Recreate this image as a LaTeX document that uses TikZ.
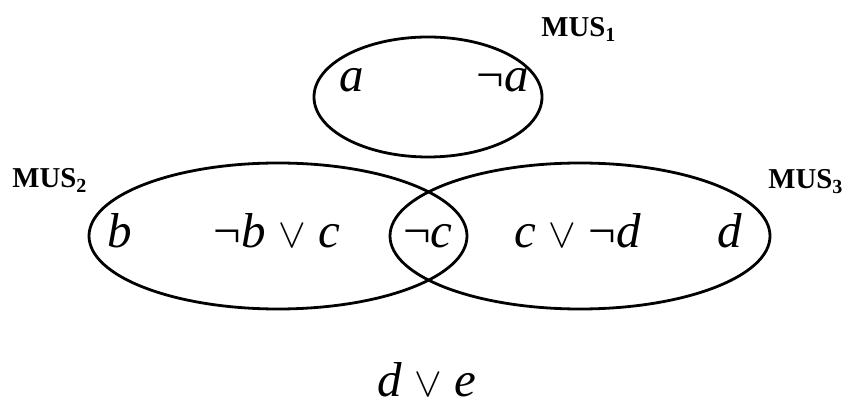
\documentclass[tikz,border=0pt]{standalone}
\usepackage{fontspec}
\setmainfont{Liberation Serif}
\usetikzlibrary{positioning}
\newcommand{\litfont}{\fontsize{24.5}{28}\selectfont\itshape}
\newcommand{\tagfont}{\fontsize{14.4}{16}\selectfont\bfseries}
\newcommand{\myneg}{{\upshape ¬}}
\newcommand{\myor}{{\fontsize{21.5}{24}\selectfont$\vee$}}
\tikzset{
  mus/.style={draw, line width=1.4pt},
  lit/.style={font=\litfont, anchor=base, inner sep=0pt},
  tag/.style={font=\tagfont, anchor=base west, inner sep=0pt},
}

\begin{document}
\begin{tikzpicture}[x=0.5pt, y=-0.5pt]
\useasboundingbox (0,0) rectangle (845,405);
%% ---- les trois ensembles minimaux
\draw[mus] (428,97) ellipse [x radius=114, y radius=60];
\draw[mus] (278,236) ellipse [x radius=189, y radius=73];
\draw[mus] (580,236) ellipse [x radius=190, y radius=73];

%% ---- noms des ensembles
\node[tag] (m1) at (541,37) {MUS\textsubscript{1}};
\node[tag] (m2) at (12,188) {MUS\textsubscript{2}};
\node[tag] (m3) at (768,189) {MUS\textsubscript{3}};

%% ---- les clauses
\node[lit] (a)   at (352,92)  {a};
\node[lit] (na)  at (503,92)  {\myneg a};
\node[lit] (b)   at (120,248) {b};
\node[lit] (bc)  at (277,248) {\myneg b \myor{} c};
\node[lit] (nc)  at (428,248) {\myneg c};
\node[lit] (cd)  at (578,248) {c \myor{} \myneg d};
\node[lit] (d)   at (730,248) {d};
%% ---- hors de tout MUS
\node[lit] (de)  at (427,396) {d \myor{} e};
\end{tikzpicture}
\end{document}
